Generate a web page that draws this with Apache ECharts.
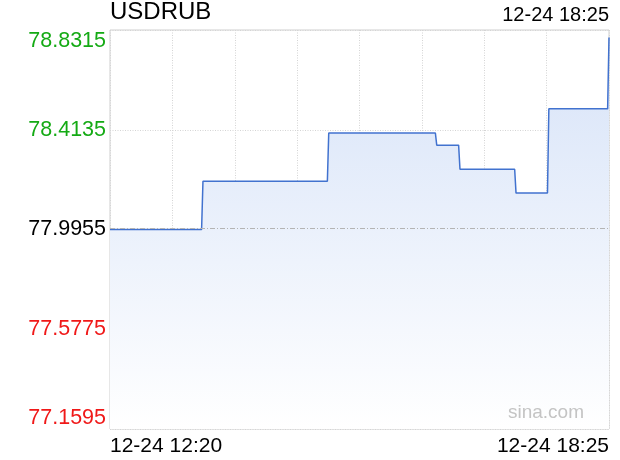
<!DOCTYPE html>
<html>
<head>
<meta charset="utf-8">
<script src="https://cdn.jsdelivr.net/npm/echarts@6/dist/echarts.min.js"></script>
<style>html,body{margin:0;padding:0;background:#fff;}#c{width:620px;height:460px;}</style>
</head>
<body>
<div id="c"></div>
<script>
var symbolName = 'USDRUB';
var updateTime = '12-24 18:25';
var xLabels = ['12-24 12:20', '12-24 18:25'];
// minutes after 12:20
var times = ['12:20','13:27','13:28','14:59','15:00','16:18','16:19','16:35','16:36','17:16','17:17','17:40','17:41','18:24','18:25'];
var prices = [77.9955,77.9955,78.198,78.198,78.400,78.400,78.349,78.349,78.248,78.248,78.148,78.148,78.501,78.501,78.800];
var yTicks = [77.1595, 77.5775, 77.9955, 78.4135, 78.8315];
var prevClose = 77.9955;
var startTime = '12:20', endTime = '18:25';

function toMin(t){var p=t.split(':');return (+p[0])*60+(+p[1]);}
var t0 = toMin(startTime), span = toMin(endTime) - t0;
var seriesData = times.map(function(t,i){return [toMin(t)-t0, prices[i]];});

var chart = echarts.init(document.getElementById('c'), null, {renderer:'canvas'});
var FONT = 'Liberation Sans, Arial, sans-serif';
function nearestTick(v){var b=yTicks[0];yTicks.forEach(function(t){if(Math.abs(t-v)<Math.abs(b-v))b=t;});return b;}
chart.setOption({
  animation:false,
  backgroundColor:'#fff',
  title:[
    {text:symbolName,left:110,top:0,padding:0,textStyle:{fontFamily:FONT,fontSize:24,fontWeight:'normal',color:'#000'}},
    {text:updateTime,right:11,top:5,padding:0,textStyle:{fontFamily:FONT,fontSize:20,fontWeight:'normal',color:'#000'}}
  ],
  graphic:[{type:'text',right:36,top:403,z:100,style:{text:'sina.com',fill:'#c4c4c4',font:'19px '+FONT}}],
  grid:{left:110,right:11,top:30,bottom:31,show:true,borderColor:'#cfcfcf',borderWidth:1,backgroundColor:'transparent'},
  xAxis:{
    type:'value',min:0,max:span,interval:span/8,
    axisLine:{show:false},axisTick:{show:false},
    splitLine:{show:true,lineStyle:{color:'#d4d4d4',type:[1,1.5],width:1}},
    axisLabel:{
      margin:7,fontFamily:FONT,fontSize:21,color:'#000',
      showMinLabel:true,showMaxLabel:true,
      alignMinLabel:'left',alignMaxLabel:'right',
      formatter:function(v){ if(Math.abs(v)<1e-6) return xLabels[0]; if(Math.abs(v-span)<1e-6) return xLabels[1]; return ''; }
    }
  },
  yAxis:{
    type:'value',min:yTicks[0],max:yTicks[yTicks.length-1],interval:0.418,
    axisLine:{show:false},axisTick:{show:false},
    splitLine:{show:true,lineStyle:{color:'#d4d4d4',type:[1,1.5],width:1}},
    axisLabel:{
      margin:4,fontFamily:FONT,fontSize:21.5,
      verticalAlignMinLabel:'bottom',verticalAlignMaxLabel:'top',
      formatter:function(v){return nearestTick(v).toFixed(4);},
      color:function(v){var t=nearestTick(+v); if(t>prevClose+1e-6) return '#14aa14'; if(t<prevClose-1e-6) return '#f01818'; return '#000';}
    }
  },
  series:[{
    type:'line',data:seriesData,showSymbol:false,symbol:'none',
    lineStyle:{color:'#4172cf',width:1.5},
    areaStyle:{opacity:1,color:new echarts.graphic.LinearGradient(0,0,0,1,[{offset:0,color:'#d7e3f8'},{offset:1,color:'#ffffff'}]),origin:'start'},
    markLine:{silent:true,symbol:'none',label:{show:false},
      lineStyle:{color:'#b4b4b4',type:[5,2,1,2],width:1},
      data:[{yAxis:prevClose}]}
  }]
});
</script>
</body>
</html>
